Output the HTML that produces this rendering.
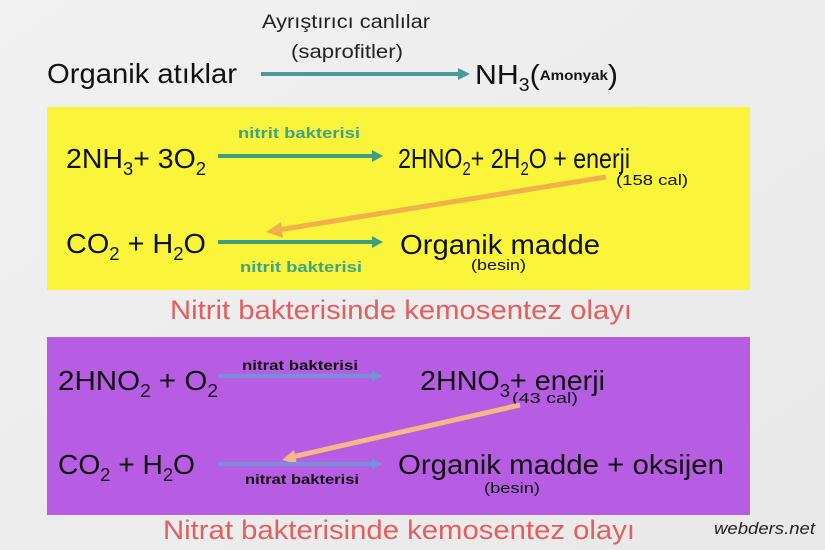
<!DOCTYPE html>
<html><head><meta charset="utf-8"><style>
html,body{margin:0;padding:0;background:#ececec;}
svg{display:block;font-family:"Liberation Sans",sans-serif;}
</style></head><body>
<svg width="825" height="550" viewBox="0 0 825 550" xmlns="http://www.w3.org/2000/svg">
<defs>
<linearGradient id="bg" x1="0" x2="1" y1="0" y2="1"><stop offset="0" stop-color="#f1f1f1"/><stop offset="1" stop-color="#e8e8e8"/></linearGradient>
</defs>
<rect width="825" height="550" fill="url(#bg)"/>
<!-- top -->
<text x="47" y="83" font-size="28" fill="#111" textLength="190" lengthAdjust="spacingAndGlyphs">Organik atıklar</text>
<text x="262" y="28" font-size="19" fill="#222" textLength="168" lengthAdjust="spacingAndGlyphs">Ayrıştırıcı canlılar</text>
<text x="291" y="58" font-size="19" fill="#222" textLength="112" lengthAdjust="spacingAndGlyphs">(saprofitler)</text>
<line x1="261" y1="74" x2="458" y2="74" stroke="#4a9a9a" stroke-width="4"/>
<polygon points="458,68 470,74 458,80" fill="#4a9a9a"/>
<text x="475" y="84" font-size="28" fill="#111" textLength="143" lengthAdjust="spacingAndGlyphs">NH<tspan font-size="18" dy="7">3</tspan><tspan dy="-7">(</tspan><tspan font-size="14" font-weight="bold" dy="-4">Amonyak</tspan><tspan dy="4">)</tspan></text>

<!-- yellow -->
<rect x="47" y="107" width="703" height="183" fill="#faf43a"/>
<text x="66" y="168" font-size="28" fill="#111" textLength="140" lengthAdjust="spacingAndGlyphs">2NH<tspan font-size="18" dy="7">3</tspan><tspan dy="-7">+ 3O</tspan><tspan font-size="18" dy="7">2</tspan></text>
<text x="238" y="138" font-size="15" font-weight="bold" fill="#3fa38a" textLength="122" lengthAdjust="spacingAndGlyphs">nitrit bakterisi</text>
<line x1="218" y1="156" x2="372" y2="156" stroke="#3f9e80" stroke-width="4"/>
<polygon points="372,150 383,156 372,162" fill="#3f9e80"/>
<text x="398" y="168" font-size="28" fill="#111" textLength="232" lengthAdjust="spacingAndGlyphs">2HNO<tspan font-size="18" dy="7">2</tspan><tspan dy="-7">+ 2H</tspan><tspan font-size="18" dy="7">2</tspan><tspan dy="-7">O + enerji</tspan></text>
<text x="616" y="185" font-size="15" fill="#111" textLength="72" lengthAdjust="spacingAndGlyphs">(158 cal)</text>
<line x1="606" y1="177" x2="278" y2="230" stroke="#f0b04a" stroke-width="5"/>
<polygon points="281,222 266,232 283,238" fill="#f0b04a"/>
<text x="66" y="253" font-size="28" fill="#111" textLength="140" lengthAdjust="spacingAndGlyphs">CO<tspan font-size="18" dy="7">2</tspan><tspan dy="-7"> + H</tspan><tspan font-size="18" dy="7">2</tspan><tspan dy="-7">O</tspan></text>
<line x1="218" y1="242" x2="372" y2="242" stroke="#3f9e80" stroke-width="4"/>
<polygon points="372,236 383,242 372,248" fill="#3f9e80"/>
<text x="240" y="272" font-size="15" font-weight="bold" fill="#3fa38a" textLength="122" lengthAdjust="spacingAndGlyphs">nitrit bakterisi</text>
<text x="400" y="254" font-size="28" fill="#111" textLength="200" lengthAdjust="spacingAndGlyphs">Organik madde</text>
<text x="471" y="270" font-size="15" fill="#111" textLength="55" lengthAdjust="spacingAndGlyphs">(besin)</text>
<text x="170" y="319" font-size="27" fill="#e06060" textLength="462" lengthAdjust="spacingAndGlyphs">Nitrit bakterisinde kemosentez olayı</text>

<!-- purple -->
<rect x="47" y="337" width="703" height="178" fill="#b65de3"/>
<text x="58" y="390" font-size="28" fill="#111" textLength="160" lengthAdjust="spacingAndGlyphs">2HNO<tspan font-size="18" dy="7">2</tspan><tspan dy="-7"> + O</tspan><tspan font-size="18" dy="7">2</tspan></text>
<text x="242" y="370" font-size="14" font-weight="bold" fill="#111" textLength="116" lengthAdjust="spacingAndGlyphs">nitrat bakterisi</text>
<line x1="218" y1="376" x2="372" y2="376" stroke="#7890d8" stroke-width="4"/>
<polygon points="372,370 382,376 372,382" fill="#7890d8"/>
<text x="420" y="390" font-size="28" fill="#111" textLength="185" lengthAdjust="spacingAndGlyphs">2HNO<tspan font-size="18" dy="7">3</tspan><tspan dy="-7">+ enerji</tspan></text>
<text x="512" y="403" font-size="15" fill="#111" textLength="66" lengthAdjust="spacingAndGlyphs">(43 cal)</text>
<line x1="520" y1="405" x2="292" y2="457" stroke="#f6b887" stroke-width="5"/>
<polygon points="294,450 282,460 297,464" fill="#f6b887"/>
<text x="58" y="474" font-size="28" fill="#111" textLength="137" lengthAdjust="spacingAndGlyphs">CO<tspan font-size="18" dy="7">2</tspan><tspan dy="-7"> + H</tspan><tspan font-size="18" dy="7">2</tspan><tspan dy="-7">O</tspan></text>
<line x1="218" y1="464" x2="372" y2="464" stroke="#7890d8" stroke-width="4"/>
<polygon points="372,458 382,464 372,470" fill="#7890d8"/>
<text x="245" y="484" font-size="14" font-weight="bold" fill="#111" textLength="114" lengthAdjust="spacingAndGlyphs">nitrat bakterisi</text>
<text x="398" y="474" font-size="28" fill="#111" textLength="326" lengthAdjust="spacingAndGlyphs">Organik madde + oksijen</text>
<text x="484" y="493" font-size="15" fill="#111" textLength="56" lengthAdjust="spacingAndGlyphs">(besin)</text>
<text x="163" y="539" font-size="27" fill="#e06060" textLength="472" lengthAdjust="spacingAndGlyphs">Nitrat bakterisinde kemosentez olayı</text>
<text x="714" y="534" font-size="17" font-style="italic" fill="#222" textLength="101" lengthAdjust="spacingAndGlyphs">webders.net</text>
</svg>
</body></html>
